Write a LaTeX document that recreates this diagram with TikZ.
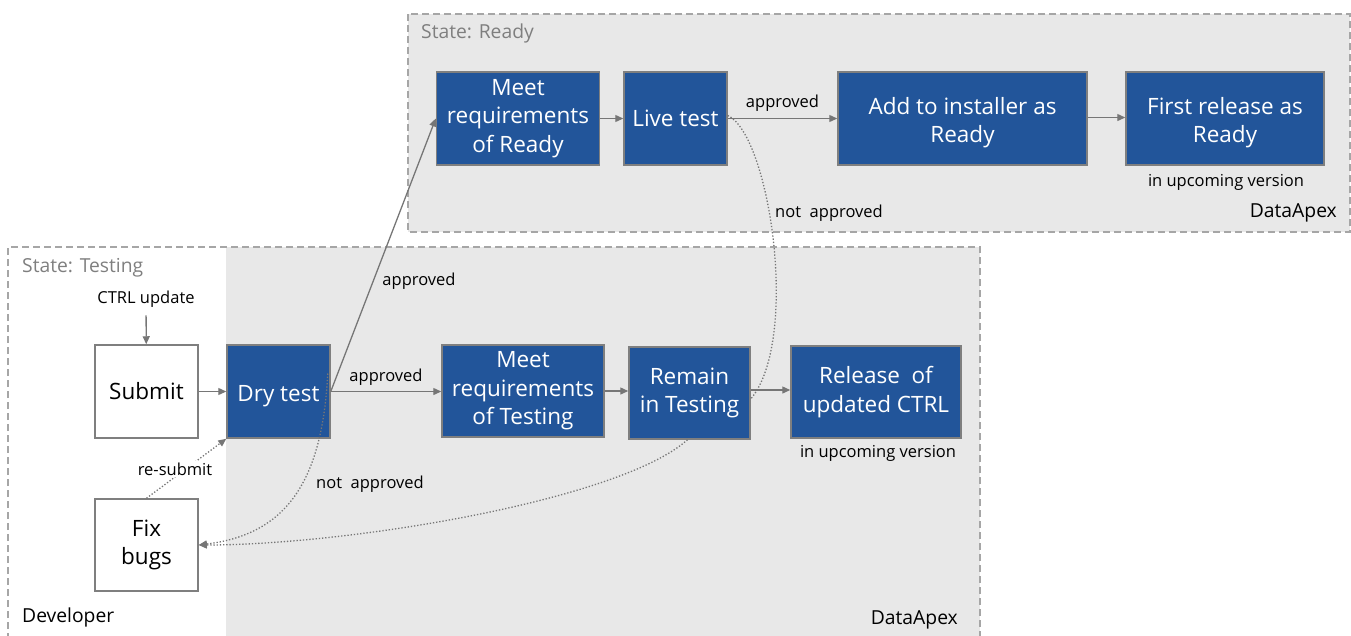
\documentclass[tikz,border=0pt]{standalone}
\usepackage{fontspec}
\setmainfont{Open Sans}
\usetikzlibrary{arrows.meta}
\definecolor{boxblue}{HTML}{22559A}
\definecolor{bordergray}{HTML}{7F7F7F}
\definecolor{panelgray}{HTML}{E8E8E8}
\definecolor{dashgray}{HTML}{A6A6A6}
\definecolor{linegray}{HTML}{767676}
\definecolor{statetext}{HTML}{7F7F7F}
\newcommand{\lowerstrut}{\rule{0pt}{25pt}}
\begin{document}
\begin{tikzpicture}[x=1pt,y=-1pt,
  boxbase/.style={draw=bordergray, line width=1.5pt, align=center, inner sep=0pt,
    font=\fontsize{22.5}{28.5}\selectfont},
  bluebox/.style={boxbase, fill=boxblue, text=white},
  whitebox/.style={boxbase, fill=white, text=black},
  flow/.style={draw=linegray, line width=1.3pt, -{Triangle[length=8pt,width=7pt]}},
  dotflow/.style={draw=linegray, line width=1.3pt, dash pattern=on 1.3pt off 1.9pt},
  dottip/.style={-{Triangle[length=8pt,width=7pt]}},
  lbl/.style={font=\fontsize{16.5}{19}\selectfont, inner sep=1pt, text=black},
  statelbl/.style={font=\fontsize{19.3}{22}\selectfont, inner sep=0pt, text=statetext, anchor=west},
  orglbl/.style={font=\fontsize{19.3}{22}\selectfont, inner sep=0pt, text=black},
  panel/.style={draw=dashgray, line width=1.4pt, dash pattern=on 7pt off 4pt},
]
\useasboundingbox (0,0) rectangle (1351,635);

% panels
\fill[panelgray] (408,14) rectangle (1350,232);
\draw[panel] (408,14) rectangle (1350,232);
\fill[panelgray] (226,247) rectangle (980,636);
\draw[panel] (8,640) -- (8,247) -- (980,247) -- (980,640);

\node[statelbl] (stready) at (421,33) {State: Ready};
\node[statelbl] (sttest) at (22,268) {State: Testing};
\node[orglbl, anchor=east] (daready) at (1337,213) {DataApex};
\node[orglbl, anchor=east] (datest) at (958,620) {DataApex};
\node[orglbl, anchor=west] (dev) at (22,617) {Developer};

% Ready row
\node[bluebox, minimum width=163pt, minimum height=93pt] (meetr) at (518,118.5) {Meet\\requirements\\of Ready};
\node[bluebox, minimum width=103pt, minimum height=93pt] (live) at (675.5,118.5) {Live test};
\node[bluebox, minimum width=249pt, minimum height=93pt] (add) at (962.5,118.5) {\lowerstrut Add to installer as\\Ready};
\node[bluebox, minimum width=198pt, minimum height=93pt] (first) at (1225,118.5) {\lowerstrut First release as\\Ready};
\node[lbl] (upr) at (1226,182) {in upcoming version};

% Testing row
\node[whitebox, minimum width=103pt, minimum height=93pt] (submit) at (146.5,391.5) {Submit};
\node[bluebox, minimum width=103pt, minimum height=93pt] (dry) at (278.5,391.5) {\lowerstrut Dry test};
\node[whitebox, minimum width=103pt, minimum height=92pt] (fix) at (146.5,545) {Fix\\bugs};
\node[bluebox, minimum width=162pt, minimum height=92pt] (meett) at (523,391) {Meet\\requirements\\of Testing};
\node[bluebox, minimum width=121pt, minimum height=92pt] (remain) at (689.5,393) {Remain\\in Testing};
\node[bluebox, minimum width=170pt, minimum height=92pt] (release) at (876,392) {Release~ of\\updated CTRL};
\node[lbl] (upt) at (878,453) {in upcoming version};

\node[lbl] (ctrl) at (146,299) {CTRL update};

% solid connectors
\draw[flow, shorten <=7pt] (ctrl) -- (submit);
\draw[flow] (submit) -- (dry);
\draw[flow] (dry.east) -- (dry.east -| meett.west) node[lbl, midway, above=4pt] (apt) {approved};
\draw[flow] (meett.east) -- (meett.east -| remain.west);
\draw[flow] (remain.east) ++(0,-3) coordinate (remE) -- (remE -| release.west);
\draw[flow] (dry.east) -- (meetr.west);
\node[lbl] (apup) at (419,281) {approved};
\draw[flow] (meetr) -- (live);
\draw[flow] (live) -- (add) node[lbl, midway, above=5pt] (apr) {approved};
\draw[flow] (add.east) ++(0,-1) coordinate (addE) -- (addE -| first.west);

% dotted connectors
\coordinate (liveE) at ([yshift=3pt]live.east);
\coordinate (remR) at ([yshift=-6pt]remain.east);
\draw[dotflow] (liveE) .. controls (770,135) and (800,340) .. (remR);
\node[lbl] (napr) at (829,213) {not~ approved};

\coordinate (dryB) at ([xshift=-3pt,yshift=18pt]dry.east);
\draw[dotflow, dottip] (dryB) .. controls (322,490) and (280,535) .. (fix.east);
\draw[dotflow, dottip] ([xshift=-2pt]remain.south) .. controls (620,500) and (350,545) .. (fix.east);
\node[lbl] (napt) at (370,484) {not~ approved};

\draw[dotflow, dottip] (fix.north) -- (dry.south west);
\node[lbl, fill=white, inner sep=2pt] (resub) at (175,469) {re-submit};
\end{tikzpicture}
\end{document}
